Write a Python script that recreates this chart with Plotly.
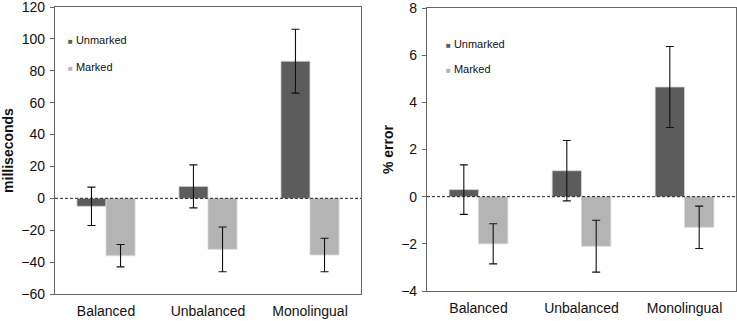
import plotly.graph_objects as go

categories = ["Balanced", "Unbalanced", "Monolingual"]

# Left panel: milliseconds
ms_unmarked = [-5, 7.5, 86]
ms_unmarked_err = [12, 13.5, 20]
ms_marked = [-36, -32, -35.5]
ms_marked_err = [7, 14, 10.5]

# Right panel: % error
err_unmarked = [0.3, 1.1, 4.65]
err_unmarked_err = [1.05, 1.28, 1.72]
err_marked = [-2.0, -2.1, -1.3]
err_marked_err = [0.85, 1.1, 0.9]

series_names = ["Unmarked", "Marked"]
DARK = "#5c5c5c"
LIGHT = "#b4b4b4"
FONT = "Liberation Sans, Arial, sans-serif"

fig = go.Figure()

def add_bars(vals, errs, color, xa, ya, name):
    fig.add_trace(go.Bar(
        x=categories, y=vals, name=name, xaxis=xa, yaxis=ya,
        marker=dict(color=color, line=dict(color="#d8d8d8", width=0.8)),
        error_y=dict(type="data", array=errs, visible=True,
                     color="#111111", thickness=1.1, width=4),
        showlegend=False,
    ))

add_bars(ms_unmarked, ms_unmarked_err, DARK, "x", "y", series_names[0])
add_bars(ms_marked, ms_marked_err, LIGHT, "x", "y", series_names[1])
add_bars(err_unmarked, err_unmarked_err, DARK, "x2", "y2", series_names[0])
add_bars(err_marked, err_marked_err, LIGHT, "x2", "y2", series_names[1])

W, H = 737, 321
L1, R1, T1, B1 = 55, 361, 7, 294
L2, R2, T2, B2 = 427, 736, 8, 291

axis_common = dict(showline=True, linecolor="#666666", linewidth=1.2, mirror=True,
                   showgrid=False, zeroline=False, automargin=False,
                   ticklabeloverflow="allow",
                   tickfont=dict(family=FONT, size=14, color="#111111"))

fig.update_layout(
    width=W, height=H,
    margin=dict(l=0, r=0, t=0, b=0),
    paper_bgcolor="white", plot_bgcolor="white",
    barmode="group", bargap=0.43, bargroupgap=0,
    font=dict(family=FONT, color="#111111"),
    xaxis=dict(domain=[L1 / W, R1 / W], anchor="y", ticks="", ticklabelstandoff=4, **axis_common),
    yaxis=dict(domain=[1 - B1 / H, 1 - T1 / H], anchor="x", range=[-60, 120], dtick=20,
               ticks="outside", ticklen=4, tickcolor="#666666", ticklabelstandoff=2,
               title=dict(text="<b>milliseconds</b>", font=dict(family=FONT, size=14), standoff=4),
               **axis_common),
    xaxis2=dict(domain=[L2 / W, R2 / W], anchor="y2", ticks="", ticklabelstandoff=4, **axis_common),
    yaxis2=dict(domain=[1 - B2 / H, 1 - T2 / H], anchor="x2", range=[-4, 8], dtick=2,
                ticks="outside", ticklen=4, tickcolor="#666666", ticklabelstandoff=2,
                title=dict(text="<b>% error</b>", font=dict(family=FONT, size=14), standoff=4),
                **axis_common),
)

# Dashed zero lines
for xr, yr in (("x domain", "y"), ("x2 domain", "y2")):
    fig.add_shape(type="line", xref=xr, yref=yr, x0=0, x1=1, y0=0, y1=0,
                  line=dict(color="#222222", width=1, dash="3px,2px"))

# Legend-like labels
def legend_item(xpix, ypix, color, text):
    fig.add_annotation(
        xref="paper", yref="paper", x=xpix / W, y=1 - ypix / H,
        xanchor="left", yanchor="middle", showarrow=False,
        text=f"<span style='color:{color}; font-size:8px'>■</span> {text}",
        font=dict(family=FONT, size=11, color="#111111"),
    )

legend_item(66, 40, DARK, series_names[0])
legend_item(66, 67, LIGHT, series_names[1])
legend_item(444, 44, DARK, series_names[0])
legend_item(444, 69, LIGHT, series_names[1])

fig.write_html("out.html", config={"displayModeBar": False},
               post_script="document.body.style.margin='0';")
